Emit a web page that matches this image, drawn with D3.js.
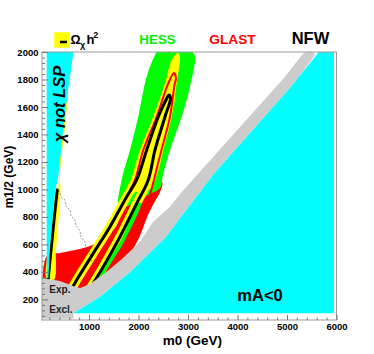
<!DOCTYPE html>
<html>
<head>
<meta charset="utf-8">
<script src="https://cdn.jsdelivr.net/npm/d3@7"></script>
<style>
  body { margin: 0; background: #fff; }
  svg { display: block; }
  text { font-family: "Liberation Sans", Arial, Helvetica, sans-serif; font-weight: bold; }
</style>
</head>
<body>
<svg id="chart" width="374" height="354"></svg>
<script>
// regions are [m0, m1/2] pairs in GeV
const m0Ticks = [1000, 2000, 3000, 4000, 5000, 6000];
const m12Ticks = [200, 400, 600, 800, 1000, 1200, 1400, 1600, 1800, 2000];

// mA<0 (cyan, bottom right)
const maRegion = [[684,100],[1218,217],[1832,400],[2535,647],[3504,1105],[4252,1411],[5058,1738],[5643,2000],[5950,2000],[5950,100]];
// chi not LSP (cyan wedge, top left)
const lspRegion = [[145,2000],[686,2000],[515,1556],[382,1105],[313,974],[212,581],[180,356],[145,356]];
// experimental exclusion + band along mA<0 (grey)
const exclRegion = [[50,356],[414,334],[676,297],[818,283],[1020,312],[1357,401],[1686,501],[2030,620],[2292,763],
  [2636,874],[2838,967],[3181,1105],[4050,1454],[4938,1811],[5302,1978],[5383,2000],[5524,2000],[5565,1978],
  [5221,1811],[5058,1738],[4252,1411],[3504,1105],[2535,647],[1832,400],[1218,217],[684,100],[684,60],[50,60]];
// GLAST (red fill)
const glastRegion = [[149,516],[414,537],[717,559],[1020,588],[1323,654],[1525,719],[1666,836],[1787,923],[2030,1054],
  [2474,1054],[2434,981],[2312,901],[2191,814],[2090,719],[2009,647],[1727,472],[1222,268],[616,196],[149,196]];
// GLAST contour in the funnel (red line)
const glastLoop = [[1828,996],[1929,1069],[2096,1287],[2367,1529],[2601,1772],[2716,1847],[2757,1811],[2727,1760],
  [2636,1529],[2464,1287],[2312,1069],[2232,960]];
// HESS (green fill)
const hessRegion = [[2373,2000],[2333,1978],[2165,1821],[1995,1529],[1828,1287],[1660,1069],[1605,872],[1828,887],
  [2191,960],[2434,1010],[2494,1105],[2636,1287],[2872,1529],[3040,1748],[3141,1966],[3080,2000]];
const hessStrip = [[2050,901],[1727,632],[1383,428],[1242,341],[1201,348],[1323,443],[1666,647],[1989,901]];
// relic density: upper tongue (yellow), central line (black)
const omegaTongue = [[1780,1000],[1868,1090],[2030,1287],[2298,1529],[2535,1772],[2670,1942],[2771,1989],[2807,1993],
  [2838,1966],[2771,1772],[2670,1529],[2500,1287],[2373,1105],[2207,996]];
const omegaLine = [[616,254],[751,341],[1086,535],[1424,729],[1761,947],[1963,1069],[2165,1287],[2399,1529],[2555,1651],
  [2615,1687],[2646,1665],[2535,1529],[2333,1287],[2197,1069],[1963,899],[1626,656],[1288,438],[1086,317],[979,254]];
const omegaLspBand = [[565,1687],[545,1556],[414,1105],[424,996],[383,778],[333,559],[293,341],
  [149,341],[171,559],[252,778],[373,996],[414,1214],[454,1432],[494,1651]];
const omegaLspLine = [[359,996],[313,850],[252,632],[202,450],[161,305]];
// thin dashed contour
const dashLine = [[333,1010],[414,981],[434,945],[515,923],[535,879],[616,850],[636,807],[717,778],[737,734],
  [818,698],[838,654],[919,618],[939,574],[1020,545],[1020,501],[1080,457],[1101,399]];

const svg = d3.select("#chart");
const x = d3.scaleLinear().domain([50, 6000]).range([42, 336.5]);
const y = d3.scaleLinear().domain([50, 2000]).range([320, 52]);

svg.append("defs").append("clipPath").attr("id", "plotArea")
  .append("rect").attr("x", 42).attr("y", 52).attr("width", 294.5).attr("height", 268);

const plot = svg.append("g").attr("clip-path", "url(#plotArea)");

const smooth = d3.line().x(d => x(d[0])).y(d => y(d[1])).curve(d3.curveCatmullRomClosed.alpha(0.5));
const straight = d3.line().x(d => x(d[0])).y(d => y(d[1]));
const curved = d3.line().x(d => x(d[0])).y(d => y(d[1])).curve(d3.curveCatmullRom.alpha(0.5));

function fill(pts, gen, color) {
  let d = gen(pts);
  if (gen === straight) d += "Z";
  plot.append("path").attr("d", d).attr("fill", color);
}
function stroke(pts, gen, color, w, dash) {
  plot.append("path").attr("d", gen(pts)).attr("fill", "none")
    .attr("stroke", color).attr("stroke-width", w)
    .attr("stroke-linejoin", "round").attr("stroke-linecap", "round")
    .attr("stroke-dasharray", dash || null);
}

fill(glastRegion, smooth, "#ff0000");
fill(hessRegion, smooth, "#00ff00");
fill(omegaTongue, smooth, "#ffff00");
stroke(omegaLine, curved, "#ffff00", 9);
fill(hessStrip, smooth, "#00ff00");
stroke(glastLoop, curved, "#ff0000", 2);
stroke(omegaLine, curved, "#000", 3);
fill(omegaLspBand, smooth, "#ffff00");
stroke(omegaLspLine, curved, "#000", 3);
plot.append("path").attr("d", straight(dashLine)).attr("fill", "none")
  .attr("stroke", "#555").attr("stroke-width", 0.6).attr("stroke-dasharray", "2,1.5");
fill(exclRegion, straight, "#cccccc");
fill(maRegion, straight, "#00ffff");
fill(lspRegion, straight, "#00ffff");

// frame
svg.append("rect").attr("x", 42).attr("y", 52).attr("width", 294.5).attr("height", 268)
  .attr("fill", "none").attr("stroke", "#999").attr("stroke-width", 1);

// axes
function styleAxis(g) {
  g.select(".domain").remove();
  g.attr("color", "#777").attr("font-family", null).attr("font-size", 9.5);
  g.selectAll("text").attr("fill", "#000");
}
const gx = svg.append("g").attr("transform", "translate(0,320)")
  .call(d3.axisBottom(x).tickValues(m0Ticks).tickSizeInner(-5).tickSizeOuter(0).tickPadding(0).tickFormat(d3.format("d")));
styleAxis(gx);
gx.selectAll("text").attr("dy", null).attr("y", 9.5);
const gxm = svg.append("g").attr("transform", "translate(0,320)")
  .call(d3.axisBottom(x).tickValues(d3.range(200, 6001, 200).filter(v => v % 1000)).tickSize(-2.5).tickFormat(""));
styleAxis(gxm);

const gy = svg.append("g").attr("transform", "translate(42,0)")
  .call(d3.axisLeft(y).tickValues(m12Ticks).tickSizeInner(-6).tickSizeOuter(0).tickPadding(3.5).tickFormat(d3.format("d")));
styleAxis(gy);
const gym = svg.append("g").attr("transform", "translate(42,0)")
  .call(d3.axisLeft(y).tickValues(d3.range(80, 2001, 40).filter(v => v % 200)).tickSize(-3).tickFormat(""));
styleAxis(gym);

// axis titles
svg.append("text").attr("x", 222).attr("y", 345).attr("text-anchor", "end")
  .attr("font-size", 13.5).text("m0 (GeV)");
svg.append("text").attr("transform", "translate(12.5,177) rotate(-90)").attr("text-anchor", "middle")
  .attr("font-size", 12).text("m1/2 (GeV)");

// region labels
svg.append("text").attr("transform", "translate(65,104) rotate(-90)").attr("text-anchor", "middle")
  .attr("font-size", 16.5).attr("font-style", "italic").text("χ not LSP");
svg.append("text").attr("x", 237.3).attr("y", 300.7).attr("font-size", 16.5).text("mA<0");
svg.append("text").attr("x", 49.3).attr("y", 293.3).attr("font-size", 10).attr("fill", "#222").text("Exp.");
svg.append("text").attr("x", 49.3).attr("y", 313.3).attr("font-size", 10).attr("fill", "#222").text("Excl.");

// legend row
svg.append("rect").attr("x", 54.3).attr("y", 32.3).attr("width", 15).attr("height", 15.4).attr("fill", "#ffff00");
svg.append("line").attr("x1", 60).attr("x2", 67).attr("y1", 42).attr("y2", 42).attr("stroke", "#000").attr("stroke-width", 2.5);
svg.append("text").attr("x", 70.5).attr("y", 44.3).attr("font-size", 12.5).attr("font-weight", "normal").text("Ω");
svg.append("text").attr("x", 80).attr("y", 47.8).attr("font-size", 9).attr("font-weight", "normal").text("χ");
svg.append("text").attr("x", 86.5).attr("y", 44.3).attr("font-size", 13).text("h");
svg.append("text").attr("x", 93.3).attr("y", 37.5).attr("font-size", 9).text("2");
svg.append("text").attr("x", 139.3).attr("y", 44.3).attr("font-size", 13.4).attr("fill", "#00ee00").text("HESS");
svg.append("text").attr("x", 209.3).attr("y", 44.3).attr("font-size", 13.7).attr("fill", "#ff0000").text("GLAST");
svg.append("text").attr("x", 291.7).attr("y", 44.3).attr("font-size", 16.5).attr("fill", "#000").text("NFW");
</script>
</body>
</html>
